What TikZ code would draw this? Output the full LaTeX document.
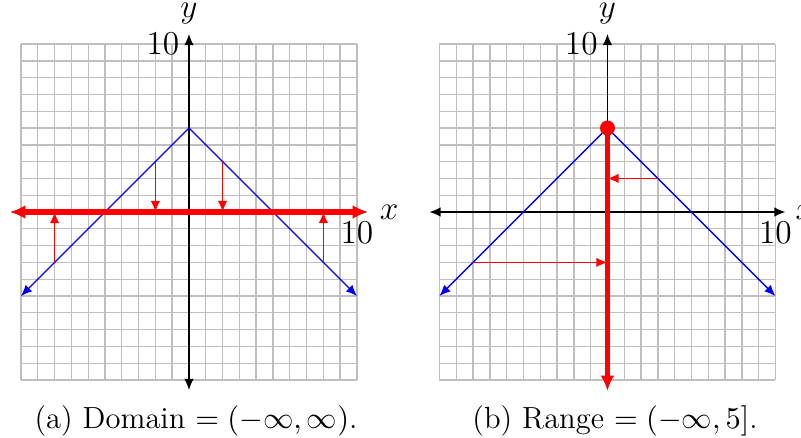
\documentclass[tikz,border=0pt]{standalone}
\usetikzlibrary{arrows.meta}

\begin{document}
\begin{tikzpicture}[x=0.2125cm, y=0.2125cm, >={Latex[length=4pt,width=3.4pt]},
    gridline/.style={gray!50, line width=0.5pt},
    axisline/.style={black, line width=0.5pt},
    graphline/.style={blue, line width=0.5pt},
    mapline/.style={red, line width=0.5pt, ->},
    setline/.style={red, line width=2pt, >={Latex[length=5.5pt,width=5pt]}},
    lab/.style={font=\large},
    toplab/.style={font=\large, inner sep=1pt, yshift=2.3pt},
    caption/.style={anchor=base, font=\fontsize{11}{13}\selectfont}]
    \useasboundingbox (-11.25,-13.45) rectangle (36.43,12.62);

    % (a) 定义域
    \begin{scope}
        % 网格
        \foreach \i in {-10,...,10} {
            \draw[gridline] (\i,-10) -- (\i,10);
            \draw[gridline] (-10,\i) -- (10,\i);
        }
        % 坐标轴
        \draw[axisline, <->] (-10.6,0) -- (10.6,0);
        \draw[axisline, <->] (0,-10.6) -- (0,10.6) node[above, toplab] (ya) {$y$};
        \node[left, lab] (tya) at (0,10) {10};
        \node[below, lab] (txa) at (10,0) {10};
        % 函数 y = 5 - |x|
        \draw[graphline, <->] (-10,-5) -- (0,5) -- (10,-5);
        % 投影到 x 轴
        \foreach \x/\y in {-8/-3, -2/3, 2/3, 8/-3}
            \draw[mapline] (\x,\y) -- (\x,0);
        % 定义域
        \draw[setline, <->] (-10.65,0) -- (10.65,0) node[right, lab, black] (xa) {$x$};
        \node[caption] (capa) at (0.42,-12.86) {(a) Domain $=(-\infty,\infty)$.};
    \end{scope}

    % (b) 值域
    \begin{scope}[shift={(24.91,0)}]
        % 网格
        \foreach \i in {-10,...,10} {
            \draw[gridline] (\i,-10) -- (\i,10);
            \draw[gridline] (-10,\i) -- (10,\i);
        }
        % 坐标轴
        \draw[axisline, <->] (-10.6,0) -- (10.6,0) node[right, lab] (xb) {$x$};
        \draw[axisline, ->] (0,5) -- (0,10.6) node[above, toplab] (yb) {$y$};
        \node[left, lab] (tyb) at (0,10) {10};
        \node[below, lab] (txb) at (10,0) {10};
        % 函数 y = 5 - |x|
        \draw[graphline, <->] (-10,-5) -- (0,5) -- (10,-5);
        % 投影到 y 轴
        \foreach \x/\y in {3/2, -8/-3}
            \draw[mapline] (\x,\y) -- (0,\y);
        % 值域
        \draw[setline, ->] (0,5) -- (0,-10.65);
        \fill[red] (0,5) circle (2.7pt);
        \node[caption] (capb) at (0.45,-12.86) {(b) Range $=(-\infty,5]$.};
    \end{scope}
\end{tikzpicture}
\end{document}
